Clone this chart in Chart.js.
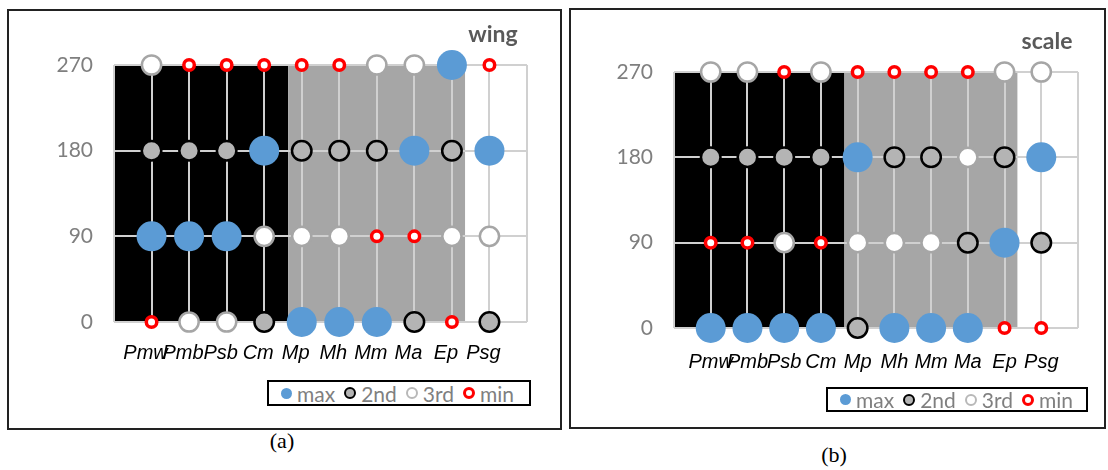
<!DOCTYPE html>
<html><head><meta charset="utf-8">
<script src="https://cdn.jsdelivr.net/npm/chart.js@4/dist/chart.umd.min.js"></script>
<style>
body{margin:0;width:1108px;height:470px;position:relative;background:#fff;overflow:hidden;font-family:Lato,sans-serif}
.frame{position:absolute;border:2px solid #222;box-sizing:border-box}
.cv{position:absolute}
.title{position:absolute;font:bold 23px Lato;color:#595959;line-height:1;transform:translate(-50%,-50%)}
.legend{position:absolute;border:2px solid #000;box-sizing:border-box;display:flex;align-items:center;padding-left:12px;font:21px Lato;color:#7f7f7f;white-space:nowrap;line-height:1}
.item{display:flex;align-items:center;margin-right:9px}
.sym{display:inline-block;box-sizing:border-box;border-radius:50%;width:12px;height:12px;margin-right:5px}
.cap{position:absolute;font:22px 'Liberation Serif';color:#000;transform:translate(-50%,-50%)}
</style></head><body>
<div class="frame" style="left:7px;top:9px;width:555px;height:421px"></div>
<div class="frame" style="left:569px;top:8px;width:537px;height:421px"></div>
<canvas id="ca" class="cv" width="530" height="360" style="left:20px;top:20px"></canvas>
<canvas id="cb" class="cv" width="520" height="370" style="left:580px;top:20px"></canvas>
<div class="title" style="left:493px;top:33px">wing</div>
<div class="title" style="left:1047px;top:40px">scale</div>
<div class="legend" style="left:267px;top:380px;width:264px;height:26px">
 <span class="item"><span class="sym" style="background:#5b9bd5;width:11px;height:11px"></span>max</span>
 <span class="item"><span class="sym" style="background:#b4b4b4;border:2.5px solid #000"></span>2nd</span>
 <span class="item"><span class="sym" style="background:#fff;border:2.5px solid #b8b8b8"></span>3rd</span>
 <span class="item"><span class="sym" style="background:#fff;border:3px solid #ff0000"></span>min</span>
</div>
<div class="legend" style="left:826px;top:387px;width:262px;height:25px">
 <span class="item"><span class="sym" style="background:#5b9bd5;width:11px;height:11px"></span>max</span>
 <span class="item"><span class="sym" style="background:#b4b4b4;border:2.5px solid #000"></span>2nd</span>
 <span class="item"><span class="sym" style="background:#fff;border:2.5px solid #b8b8b8"></span>3rd</span>
 <span class="item"><span class="sym" style="background:#fff;border:3px solid #ff0000"></span>min</span>
</div>
<div class="cap" style="left:282px;top:441px">(a)</div>
<div class="cap" style="left:834px;top:455px">(b)</div>
<script>
// ---- data ----
const categories = ['Pmw','Pmb','Psb','Cm','Mp','Mh','Mm','Ma','Ep','Psg'];
const yTicks = [0, 90, 180, 270];
// group shading limits, in category units (black group, gray group)
const groupEdges = [0, 4.64, 9.35];

const wingMax = [90, 90, 90, 180, 0, 0, 0, 180, 270, 180];
const wing2nd = [180, 180, 180, 0, 180, 180, 180, 0, 180, 0];
const wing3rd = [270, 0, 0, 90, 90, 90, 270, 270, 90, 90];
const wingMin = [0, 270, 270, 270, 270, 270, 90, 90, 0, 270];

const scaleMax = [0, 0, 0, 0, 180, 0, 0, 0, 90, 180];
const scale2nd = [180, 180, 180, 180, 0, 180, 180, 90, 180, 90];
const scale3rd = [270, 270, 90, 270, 90, 90, 90, 180, 270, 270];
const scaleMin = [90, 90, 270, 90, 270, 270, 270, 270, 0, 0];

// ---- chart ----
const toPts = arr => arr.map((v, i) => ({x: i + 1, y: v}));

const bandPlugin = {
  id: 'bands',
  beforeDraw(chart) {
    const {ctx, scales: {x, y}} = chart;
    const colors = ['#000000', '#a6a6a6'];
    const top = y.getPixelForValue(yTicks[yTicks.length - 1]);
    const bot = y.getPixelForValue(yTicks[0]);
    ctx.save();
    for (let i = 0; i < groupEdges.length - 1; i++) {
      const x0 = x.getPixelForValue(groupEdges[i]);
      const x1 = x.getPixelForValue(groupEdges[i + 1]);
      ctx.fillStyle = colors[i];
      ctx.fillRect(x0, top, x1 - x0, bot - top);
    }
    ctx.restore();
  }
};

function makeChart(id, s, geo) {
  const ds = (label, data, r, bw, fill, stroke) => ({
    label, data: toPts(data), clip: false, showLine: false,
    pointRadius: r, pointHoverRadius: r, pointBorderWidth: bw,
    pointBackgroundColor: fill, pointBorderColor: stroke
  });
  return new Chart(document.getElementById(id), {
    type: 'scatter',
    data: {
      datasets: [
        ds('min', s[3], 5.25, 3.5, '#ffffff', '#ff0000'),
        ds('max', s[0], 15, 0, '#5b9bd5', '#5b9bd5'),
        ds('2nd', s[1], 9.75, 2.5, '#b4b4b4', '#000000'),
        ds('3rd', s[2], 9.6, 2.5, '#ffffff', '#a6a6a6')
      ]
    },
    plugins: [bandPlugin],
    options: {
      responsive: false, animation: false, devicePixelRatio: 1,
      layout: {padding: {top: geo.top, right: geo.right, left: 0, bottom: 0}},
      plugins: {legend: {display: false}, tooltip: {enabled: false}},
      scales: {
        x: {
          type: 'linear', min: 0, max: categories.length + 1,
          afterBuildTicks: sc => { sc.ticks = Array.from({length: categories.length + 2}, (_, i) => ({value: i})); },
          afterFit: sc => { sc.height = geo.xh; },
          grid: {color: '#d0d0d0', lineWidth: 2, drawTicks: false},
          border: {display: false},
          ticks: {
            autoSkip: false, maxRotation: 0, minRotation: 0, padding: geo.xpad, labelOffset: geo.xoff,
            color: '#000', font: {family: 'Liberation Sans', style: 'italic', size: 20},
            callback: v => categories[v - 1] || ''
          }
        },
        y: {
          type: 'linear', min: yTicks[0], max: yTicks[yTicks.length - 1],
          afterBuildTicks: sc => { sc.ticks = yTicks.map(v => ({value: v})); },
          afterFit: sc => { sc.width = geo.yw; },
          grid: {color: '#d0d0d0', lineWidth: 2, drawTicks: false},
          border: {display: false},
          ticks: {padding: 21, color: '#7f7f7f', font: {family: 'Lato', size: 21}}
        }
      }
    }
  });
}

makeChart('ca', [wingMax, wing2nd, wing3rd, wingMin], {top: 45, right: 23, xh: 58, yw: 94, xpad: 19, xoff: -6});
makeChart('cb', [scaleMax, scale2nd, scale3rd, scaleMin], {top: 52, right: 18, xh: 62, yw: 94, xpad: 22, xoff: 0});
</script>
</body></html>
